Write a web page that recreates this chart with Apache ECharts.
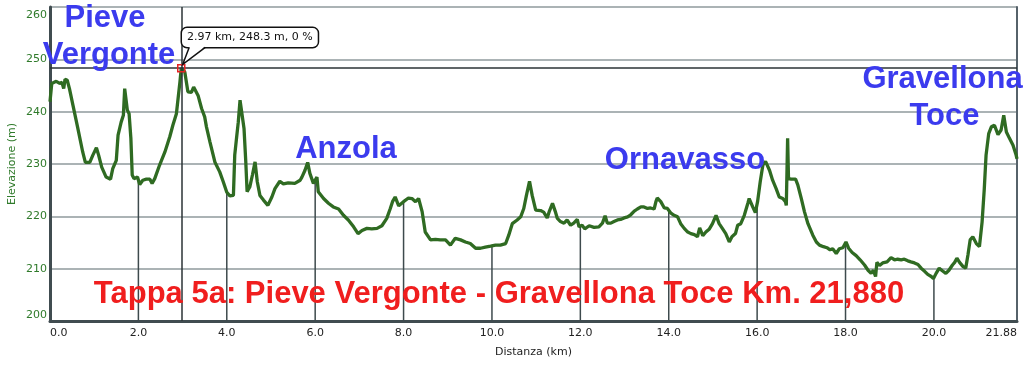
<!DOCTYPE html>
<html><head><meta charset="utf-8">
<script src="https://cdn.jsdelivr.net/npm/echarts@6/dist/echarts.min.js"></script>
<style>html,body{margin:0;padding:0;background:#fff}#c{width:1024px;height:365px}</style>
</head><body><div id="c"></div>
<script>
const distanceKm = [0.00,0.04,0.14,0.22,0.27,0.31,0.34,0.39,0.44,0.52,0.63,0.74,0.80,0.90,0.97,1.05,1.10,1.17,1.27,1.37,1.42,1.50,1.54,1.61,1.66,1.69,1.72,1.75,1.79,1.83,1.86,1.90,1.98,2.03,2.10,2.18,2.26,2.31,2.37,2.48,2.60,2.71,2.78,2.86,2.94,2.97,3.05,3.12,3.20,3.25,3.35,3.43,3.50,3.54,3.62,3.73,3.84,3.92,4.00,4.07,4.15,4.18,4.22,4.26,4.30,4.33,4.39,4.43,4.46,4.52,4.58,4.64,4.69,4.75,4.83,4.93,5.02,5.09,5.20,5.28,5.39,5.54,5.66,5.70,5.77,5.83,5.88,5.96,6.04,6.07,6.19,6.30,6.41,6.53,6.64,6.75,6.87,6.97,7.06,7.17,7.28,7.40,7.51,7.62,7.70,7.75,7.81,7.89,8.00,8.11,8.19,8.27,8.34,8.42,8.49,8.61,8.72,8.83,8.95,9.06,9.17,9.29,9.40,9.51,9.63,9.74,9.85,9.97,10.08,10.19,10.31,10.38,10.46,10.57,10.65,10.72,10.78,10.85,10.91,10.99,11.10,11.17,11.25,11.30,11.37,11.43,11.48,11.55,11.63,11.70,11.78,11.85,11.93,11.97,12.04,12.10,12.20,12.31,12.42,12.50,12.56,12.61,12.69,12.76,12.84,12.91,12.99,13.07,13.14,13.22,13.29,13.37,13.44,13.52,13.59,13.67,13.71,13.74,13.82,13.90,13.97,14.05,14.12,14.20,14.27,14.35,14.43,14.50,14.58,14.65,14.70,14.77,14.84,14.92,14.99,15.07,15.14,15.22,15.29,15.37,15.43,15.51,15.56,15.63,15.71,15.79,15.82,15.90,15.96,16.01,16.07,16.13,16.19,16.28,16.35,16.43,16.50,16.58,16.64,16.66,16.69,16.71,16.77,16.87,16.92,17.00,17.07,17.15,17.26,17.34,17.41,17.50,17.58,17.65,17.71,17.79,17.86,17.94,18.01,18.07,18.15,18.24,18.33,18.43,18.51,18.58,18.63,18.68,18.71,18.77,18.84,18.94,19.03,19.11,19.18,19.26,19.33,19.41,19.48,19.56,19.64,19.71,19.79,19.86,19.94,19.99,20.05,20.12,20.19,20.27,20.34,20.42,20.47,20.52,20.58,20.66,20.72,20.77,20.82,20.88,20.96,21.03,21.09,21.14,21.18,21.24,21.30,21.37,21.45,21.52,21.58,21.64,21.71,21.79,21.86,21.88];
const elevationM = [241.9,245.4,245.8,245.4,245.6,244.4,246.2,246.0,244.4,241.2,236.8,232.3,230.3,230.3,231.7,233.1,231.7,229.4,227.5,227.1,229.1,230.7,235.5,238.0,239.3,244.4,244.5,240.3,239.6,234.9,227.9,227.2,227.5,226.1,226.9,227.1,227.1,226.3,227.2,229.8,232.3,235.2,237.4,239.6,245.7,248.3,247.6,243.8,243.7,244.7,243.1,240.6,239.0,237.1,234.2,230.4,228.5,226.6,224.6,223.9,224.0,231.7,234.9,238.0,242.2,242.0,236.8,230.4,224.7,225.6,227.9,230.4,226.6,224.0,223.1,222.1,223.7,225.3,226.7,226.2,226.4,226.3,226.9,227.5,228.8,230.3,228.2,226.3,227.5,224.7,223.4,222.5,221.8,221.4,220.2,219.3,218.0,216.7,217.3,217.7,217.6,217.7,218.2,219.6,221.5,222.8,223.7,222.0,222.8,223.5,223.4,222.8,223.4,220.9,217.0,215.5,215.6,215.5,215.5,214.5,215.8,215.5,215.1,214.8,213.9,213.9,214.1,214.3,214.5,214.5,214.8,216.4,218.6,219.3,219.9,221.5,224.0,226.7,224.0,221.2,221.1,220.8,219.7,221.0,222.5,221.0,219.6,219.0,218.7,219.3,218.3,218.7,219.4,218.0,218.3,217.6,218.2,217.9,218.0,218.7,220.1,218.7,218.7,219.0,219.3,219.4,219.7,219.9,220.3,221.0,221.4,221.8,221.8,221.5,221.6,221.4,222.8,223.5,222.8,221.6,221.5,220.6,220.2,219.9,218.6,217.7,217.0,216.7,216.5,216.1,217.8,216.3,217.0,217.6,218.6,220.2,218.6,217.6,216.7,215.1,216.1,216.7,218.3,218.6,220.2,222.5,223.4,221.8,220.7,222.8,226.6,229.8,230.5,228.8,226.9,225.3,223.7,223.4,222.8,222.1,234.9,227.2,227.1,227.1,226.0,223.4,220.9,218.6,216.4,215.1,214.5,214.2,214.0,213.6,213.8,212.9,213.8,214.0,215.1,213.9,213.1,212.5,211.7,210.7,209.7,209.1,209.7,208.5,211.2,210.6,211.1,211.3,212.1,211.7,211.8,211.7,211.8,211.5,211.3,211.1,210.8,210.1,209.5,208.9,208.5,208.1,209.1,210.1,209.6,209.1,209.7,210.7,211.2,212.0,211.2,210.4,210.1,212.6,215.5,216.1,214.8,214.2,218.9,225.3,231.7,235.8,237.1,237.4,235.6,236.5,239.3,236.1,234.9,233.6,231.7,231.0];
const dropLineKm = [2,4,6,8,10,12,14,16,18,20];
const xMin = 0, xMax = 21.88, xStep = 2;
const yMin = 200, yMax = 260, yStep = 10;
const cursorKm = 2.97, cursorElev = 248.3;
const cursorText = '2.97 km, 248.3 m, 0 %';
const xAxisName = 'Distanza (km)';
const yAxisName = 'Elevazione (m)';
const placeNames = ['Pieve', 'Vergonte', 'Anzola', 'Ornavasso', 'Gravellona', 'Toce'];
const stageTitle = 'Tappa 5a: Pieve Vergonte - Gravellona Toce Km. 21,880';

function elevAt(x) {
  for (let i = 1; i < distanceKm.length; i++) {
    if (distanceKm[i] >= x) {
      const x0 = distanceKm[i-1], x1 = distanceKm[i];
      const t = (x - x0) / (x1 - x0);
      return elevationM[i-1] + t * (elevationM[i] - elevationM[i-1]);
    }
  }
  return elevationM[elevationM.length - 1];
}

const BLUE = '#3b3bee', RED = '#f01e1e', GREEN = '#2f6b22', LABELGREEN = '#2f7a2a';
const bigFont = 'bold 31px "Liberation Sans", Arial, sans-serif';
function bigText(id, text, x, y, color) {
  return { type: 'text', id: id, x: x, y: y, z: 50,
    style: { text: text, fill: color, font: bigFont, align: 'center', verticalAlign: 'middle',
             textAlign: 'center', textVerticalAlign: 'middle' } };
}

const chart = echarts.init(document.getElementById('c'));
chart.setOption({
  animation: false,
  backgroundColor: '#fff',
  grid: { left: 50, right: 7, top: 7, bottom: 44, containLabel: false, outerBoundsMode: 'none' },
  xAxis: {
    type: 'value', min: xMin, max: xMax, interval: xStep,
    name: xAxisName, nameLocation: 'middle', nameGap: 26,
    nameTextStyle: { color: '#222', fontSize: 11, fontFamily: 'DejaVu Sans' },
    axisLine: { show: true, onZero: false, lineStyle: { color: '#404c50', width: 3 } },
    axisTick: { show: false },
    splitLine: { show: false },
    axisLabel: {
      color: '#222', fontSize: 11, fontFamily: 'DejaVu Sans', margin: 7,
      showMinLabel: true, showMaxLabel: true, alignMinLabel: 'left', alignMaxLabel: 'right',
      formatter: v => Math.abs(v - Math.round(v)) < 1e-9 ? v.toFixed(1) : v.toFixed(2)
    }
  },
  yAxis: [{
    type: 'value', min: yMin, max: yMax, interval: yStep,
    name: yAxisName, nameLocation: 'middle', nameGap: 32, nameRotate: 90, nameMoveOverlap: false,
    nameTextStyle: { color: LABELGREEN, fontSize: 11, fontFamily: 'DejaVu Sans' },
    axisLine: { show: true, lineStyle: { color: '#404c50', width: 3 } },
    axisTick: { show: false },
    splitLine: { show: true, lineStyle: { color: '#8f9a9c', width: 1.5 } },
    axisLabel: {
      color: LABELGREEN, fontSize: 11, fontFamily: 'DejaVu Sans', margin: 3,
      formatter: v => v === yMax ? '{t|' + v + '}' : (v === yMin ? '{b|' + v + '}' : String(v)),
      rich: {
        t: { color: LABELGREEN, fontSize: 11, fontFamily: 'DejaVu Sans', padding: [16, 0, 0, 0] },
        b: { color: LABELGREEN, fontSize: 11, fontFamily: 'DejaVu Sans', padding: [0, 0, 12, 0] }
      }
    }
  }, {
    type: 'value', min: yMin, max: yMax, interval: yStep, position: 'right',
    axisLine: { show: true, lineStyle: { color: '#56626a', width: 2 } },
    axisTick: { show: false }, axisLabel: { show: false }, splitLine: { show: false }
  }],
  series: [{
    type: 'custom', z: 1, silent: true,
    data: dropLineKm.map(x => [x, elevAt(x)]),
    renderItem: (params, api) => {
      const top = api.coord([api.value(0), api.value(1)]);
      const bot = api.coord([api.value(0), yMin]);
      return { type: 'line', shape: { x1: top[0], y1: top[1], x2: bot[0], y2: bot[1] },
               style: { stroke: '#3e4a4d', lineWidth: 1.5 } };
    }
  }, {
    type: 'line', z: 3, showSymbol: false, silent: true,
    data: distanceKm.map((d, i) => [d, elevationM[i]]),
    lineStyle: { color: GREEN, width: 3.3 },
    itemStyle: { color: GREEN },
    markLine: {
      silent: true, symbol: 'none', label: { show: false },
      lineStyle: { color: '#2b3336', width: 1.5, type: 'solid' },
      data: [{ xAxis: cursorKm }, { yAxis: cursorElev }]
    },
    markPoint: {
      silent: true,
      symbol: 'rect', symbolSize: 7,
      itemStyle: { color: 'rgba(255,255,255,0)', borderColor: '#e52222', borderWidth: 1.5 },
      label: {
        show: true, formatter: cursorText, position: [5, -36], align: 'left', verticalAlign: 'top',
        color: '#111', fontSize: 11, fontFamily: 'DejaVu Sans', lineHeight: 13,
        backgroundColor: '#fff', borderColor: '#111', borderWidth: 1.5, borderRadius: 5,
        padding: [3, 5, 3, 5]
      },
      data: [{ coord: [cursorKm, cursorElev] }]
    }
  }],
  graphic: { elements: [
    bigText('p1', placeNames[0], 105, 18.6, BLUE),
    bigText('p2', placeNames[1], 109, 55.3, BLUE),
    bigText('p3', placeNames[2], 346, 149.3, BLUE),
    bigText('p4', placeNames[3], 685, 160.3, BLUE),
    bigText('p5', placeNames[4], 942.5, 79.3, BLUE),
    bigText('p6', placeNames[5], 944.5, 116.3, BLUE),
    bigText('title', stageTitle, 499, 294.3, RED)
  ] }
});

const pt = chart.convertToPixel({ xAxisIndex: 0, yAxisIndex: 0 }, [cursorKm, cursorElev]);
const boxBottom = pt[1] - 20.9;
chart.setOption({ graphic: { elements: [
  { type: 'polygon', id: 'tailFill', z: 200, silent: true,
    shape: { points: [[pt[0] + 1.5, pt[1] - 4], [pt[0] + 8, boxBottom - 1.2], [pt[0] + 24, boxBottom - 1.2]] },
    style: { fill: '#fff' } },
  { type: 'polyline', id: 'tailLine', z: 201, silent: true,
    shape: { points: [[pt[0] + 8, boxBottom], [pt[0] + 1.5, pt[1] - 4], [pt[0] + 24, boxBottom]] },
    style: { stroke: '#111', lineWidth: 1.5, fill: null } }
] } });
</script></body></html>
